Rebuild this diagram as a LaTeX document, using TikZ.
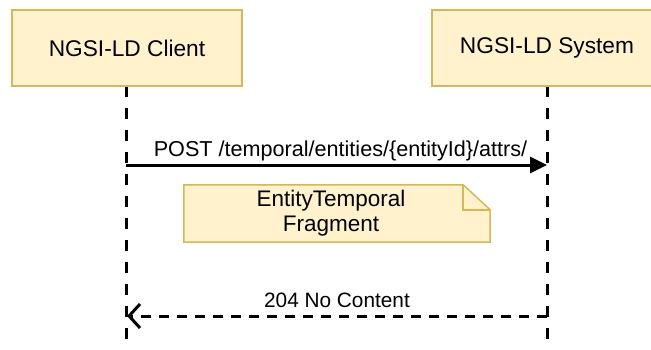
\documentclass[tikz,border=0pt]{standalone}
\usepackage{fontspec}
\setmainfont{Liberation Sans}
\usetikzlibrary{arrows.meta,positioning}
\definecolor{boxfill}{HTML}{FFF2CC}
\definecolor{boxline}{HTML}{D6B656}

\begin{document}
\begin{tikzpicture}[
    x=1pt, y=-1pt,
    actor/.style={rectangle, draw=boxline, fill=boxfill, line width=1.5pt, minimum width=230pt, minimum height=76pt, font=\fontsize{22.7}{24}\selectfont},
    lifeline/.style={draw=black, line width=3pt, dash pattern=on 11pt off 11pt},
    call/.style={draw=black, line width=3pt, -{Triangle[length=17pt,width=16pt]}},
    reply/.style={draw=black, line width=3pt, dash pattern=on 10pt off 8pt, -{Straight Barb[length=11pt,width=24pt]}},
    msglabel/.style={font=\fontsize{21.6}{24}\selectfont, inner sep=3pt}
    ]
    \useasboundingbox (0,0) rectangle (651,349);

    % participants
    \coordinate (clientend) at (126,352);
    \coordinate (systemend) at (547,352);
    \draw[lifeline] (126,86) -- (clientend);
    \draw[lifeline] (547,86) -- (systemend);
    \node[actor] (client) at (127,48) {NGSI-LD Client};
    \node[actor] (system) at (547,48) {NGSI-LD System};

    % request
    \coordinate (postfrom) at (126,165);
    \coordinate (postto) at (547,165);
    \draw[call] (postfrom) -- node[msglabel, above, xshift=4pt] (postlabel) {POST /temporal/entities/\{entityId\}/attrs/} (postto);

    % note with folded corner
    \node[minimum width=306pt, minimum height=57pt, inner sep=0pt] (note) at (337,213.5) {};
    \draw[draw=boxline, fill=boxfill, line width=1.5pt]
        (note.north west) -- ([xshift=-27pt]note.north east) -- ([yshift=-25pt]note.north east)
        -- (note.south east) -- (note.south west) -- cycle;
    \draw[draw=boxline, line width=1.5pt]
        ([xshift=-27pt]note.north east) -- ([xshift=-27pt,yshift=-25pt]note.north east) -- ([yshift=-25pt]note.north east);
    \node[align=center, font=\fontsize{22.5}{25}\selectfont] (notetext) at (331,213) {EntityTemporal\\Fragment};

    % response
    \coordinate (replyfrom) at (547,316);
    \coordinate (replyto) at (127,316);
    \draw[reply] (replyfrom) -- node[msglabel, above, yshift=4pt, font=\fontsize{20.8}{24}\selectfont] (replylabel) {204 No Content} (replyto);
\end{tikzpicture}
\end{document}
